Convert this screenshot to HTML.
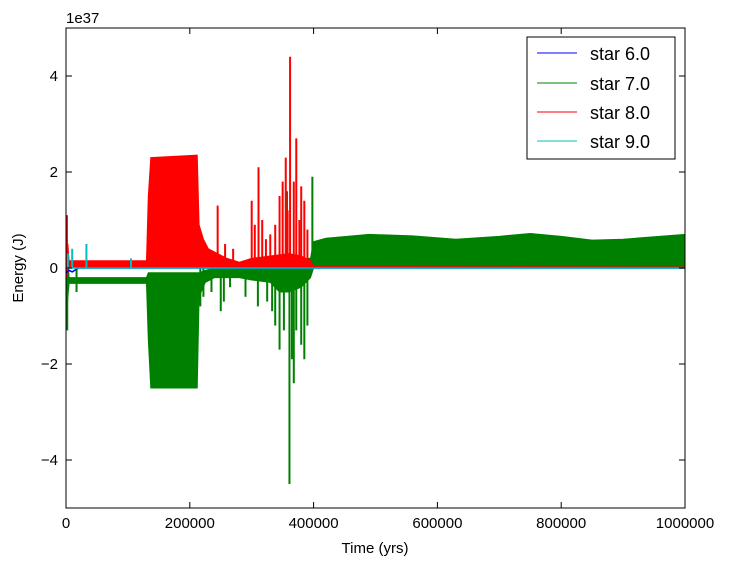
<!DOCTYPE html>
<html><head><meta charset="utf-8"><style>
body{margin:0;background:#fff;}
svg text{font-family:"Liberation Sans","DejaVu Sans",sans-serif;}
</style></head><body>
<svg id="c" width="732" height="566" xmlns="http://www.w3.org/2000/svg">
<rect width="732" height="566" fill="#fff"/>
<g id="plot"></g>
<g id="axes"></g>
</svg>
<script>
// data (time in yrs, energy in 1e37 J)
const xTicks=[0,200000,400000,600000,800000,1000000];
const yTicks=[-4,-2,0,2,4];
const yTickLabels=["\u22124","\u22122","0","2","4"];
const seriesNames=["star 6.0","star 7.0","star 8.0","star 9.0"];
const seriesColors=["#0000ff","#008000","#ff0000","#00bfbf"];
// star 7.0 band envelope
const greenT=[0,3000,5000,130000,133000,137000,212000,215000,225000,240000,280000,300000,330000,345000,360000,380000,395000,400000,420000,490000,560000,630000,700000,750000,800000,850000,900000,1000000];
const greenHi=[0.5,0.2,-0.2,-0.2,-0.1,-0.1,-0.1,-0.1,-0.05,0,0,0,0.05,0.15,0.2,0.2,0.2,0.55,0.62,0.7,0.67,0.6,0.66,0.72,0.66,0.58,0.6,0.7];
const greenLo=[-1.3,-0.6,-0.32,-0.32,-1.5,-2.5,-2.5,-0.6,-0.3,-0.2,-0.2,-0.25,-0.3,-0.5,-0.5,-0.4,-0.2,0,0,0,0,0,0,0,0,0,0,0];
const greenSpikeT=[2000,17000,217000,222000,235000,250000,255000,265000,290000,310000,325000,333000,338000,345000,352000,357000,361000,365000,368000,372000,380000,385000,390000,398000];
const greenSpikeV=[-1.3,-0.5,-0.8,-0.6,-0.5,-0.9,-0.7,-0.4,-0.6,-0.8,-0.7,-0.9,-1.2,-1.7,-1.3,1.6,-4.5,-1.9,-2.4,-1.3,-1.6,-1.9,-1.2,1.9];
// star 8.0 band envelope
const redT=[0,3000,5000,130000,133000,137000,212000,215000,222000,230000,260000,280000,300000,330000,360000,380000,395000,400000,1000000];
const redHi=[0.6,0.5,0.15,0.15,1.5,2.3,2.35,0.9,0.6,0.4,0.2,0.12,0.2,0.25,0.3,0.25,0.15,0.03,0.02];
const redLo=[-0.2,-0.1,0.02,0.02,0.02,0.02,0.02,0.02,0.02,0.02,0.02,0.02,0.02,0.02,0.02,0.02,0.02,0.0,0.0];
const redSpikeT=[1500,245000,257000,270000,300000,305000,311000,317000,323000,330000,338000,345000,350000,355000,358000,362000,368000,372000,377000,380000,385000,390000];
const redSpikeV=[1.1,1.3,0.5,0.4,1.4,0.9,2.1,1.0,0.6,0.7,0.9,1.5,1.8,2.3,1.2,4.4,1.8,2.7,1.0,1.7,1.4,0.8];
// star 9.0 and 6.0
const cyanSpikeT=[3000,10000,33000,105000];
const cyanSpikeV=[0.3,0.4,0.5,0.2];
const blueT=[0,5000,10000,20000,1000000];
const blueV=[-0.1,-0.05,-0.08,0,0];

const X0=66,X1=685,Y0=28,Y1=508;
const sx=v=>X0+(v-0)/1000000*(X1-X0);
const sy=v=>Y1-(v+5)/10*(Y1-Y0);
const NS="http://www.w3.org/2000/svg";
const plot=document.getElementById('plot'),axes=document.getElementById('axes');
function mk(tag,attrs,parent){const e=document.createElementNS(NS,tag);for(const k in attrs)e.setAttribute(k,attrs[k]);parent.appendChild(e);return e;}
function band(t,hi,lo,color,name){
  let d="M"+t.map((v,i)=>sx(v)+","+sy(hi[i])).join("L");
  d+="L"+t.slice().reverse().map((v,j)=>{const i=t.length-1-j;return sx(v)+","+sy(lo[i]);}).join("L")+"Z";
  const p=mk('path',{d:d,fill:color,stroke:color,'stroke-width':1},plot);
  
  
}
function spikes(t,v,color,name){
  t.forEach((tt,i)=>{
    const l=mk('line',{x1:sx(tt),x2:sx(tt),y1:sy(0),y2:sy(v[i]),stroke:color,'stroke-width':2},plot);
    
    
  });
}
band(greenT,greenHi,greenLo,seriesColors[1],'star-7-band');
spikes(greenSpikeT,greenSpikeV,seriesColors[1],'star-7-spike');
band(redT,redHi,redLo,seriesColors[2],'star-8-band');
spikes(redSpikeT,redSpikeV,seriesColors[2],'star-8-spike');
const bl=mk('polyline',{points:blueT.map((t,i)=>sx(t)+","+sy(blueV[i])).join(" "),fill:"none",stroke:seriesColors[0],'stroke-width':1.5},plot);


const cl=mk('line',{x1:sx(0),x2:sx(1000000),y1:sy(0),y2:sy(0),stroke:seriesColors[3],'stroke-width':1.5},plot);


spikes(cyanSpikeT,cyanSpikeV,seriesColors[3],'star-9-spike');

const fr=mk('rect',{x:X0,y:Y0,width:X1-X0,height:Y1-Y0,fill:"none",stroke:"#000","stroke-width":1},axes);


xTicks.forEach(v=>{
  const x=sx(v);
  mk('line',{x1:x,x2:x,y1:Y1,y2:Y1-6,stroke:"#000"},axes);
  mk('line',{x1:x,x2:x,y1:Y0,y2:Y0+6,stroke:"#000"},axes);
  const t=mk('text',{x:x,y:Y1+20,'text-anchor':'middle','font-size':15},axes);t.textContent=v;
  
  
});
yTicks.forEach((v,i)=>{
  const y=sy(v);
  mk('line',{x1:X0,x2:X0+6,y1:y,y2:y,stroke:"#000"},axes);
  mk('line',{x1:X1,x2:X1-6,y1:y,y2:y,stroke:"#000"},axes);
  const t=mk('text',{x:X0-8,y:y+5,'text-anchor':'end','font-size':15},axes);t.textContent=yTickLabels[i];
  
  
});
</script>
<svg style="position:absolute;left:0;top:0" width="732" height="566" xmlns="http://www.w3.org/2000/svg">
<text x="66" y="23" font-size="15" font-family="Liberation Sans, sans-serif">1e37</text>
<text x="375" y="553" text-anchor="middle" font-size="15" font-family="Liberation Sans, sans-serif">Time (yrs)</text>
<text transform="translate(23,268) rotate(-90)" text-anchor="middle" font-size="15" font-family="Liberation Sans, sans-serif">Energy (J)</text>
<g>
<rect x="527" y="37" width="148" height="122" fill="#fff" stroke="#000"/>
<line x1="537" x2="577" y1="53" y2="53" stroke="#0000ff"/>
<text x="590" y="60" font-size="18" font-family="Liberation Sans, sans-serif">star 6.0</text>
<line x1="537" x2="577" y1="83" y2="83" stroke="#008000"/>
<text x="590" y="90" font-size="18" font-family="Liberation Sans, sans-serif">star 7.0</text>
<line x1="537" x2="577" y1="112" y2="112" stroke="#ff0000"/>
<text x="590" y="119" font-size="18" font-family="Liberation Sans, sans-serif">star 8.0</text>
<line x1="537" x2="577" y1="141" y2="141" stroke="#00bfbf"/>
<text x="590" y="148" font-size="18" font-family="Liberation Sans, sans-serif">star 9.0</text>
</g>
</svg>
</body></html>
